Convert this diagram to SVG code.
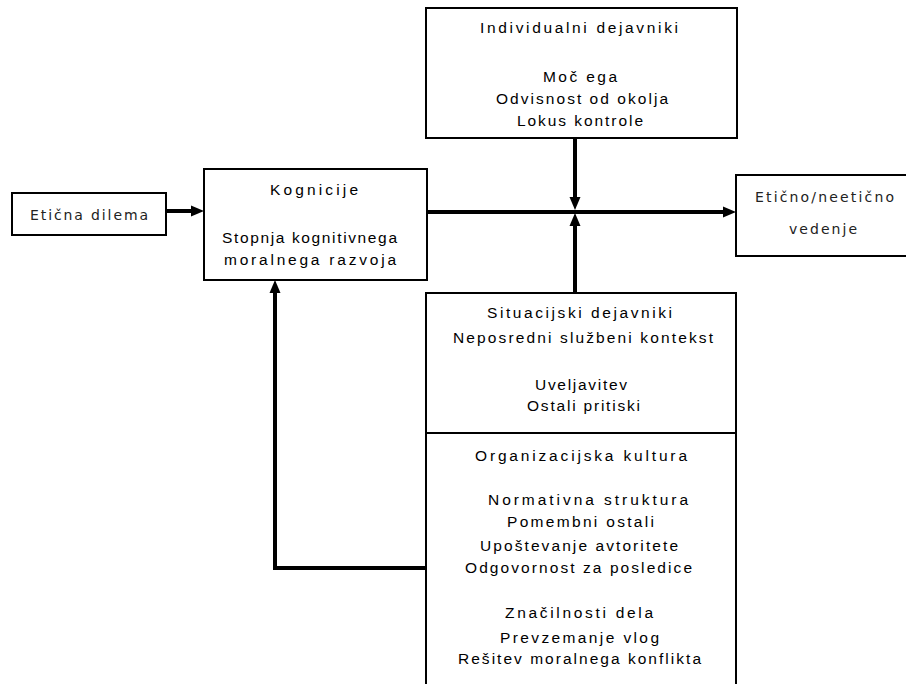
<svg xmlns="http://www.w3.org/2000/svg" width="906" height="684" viewBox="0 0 906 684">
<style>
.box{fill:#fff;stroke:#000;stroke-width:2}
.px{font-family:"Liberation Sans",Arial,sans-serif;font-size:15.5px;fill:#000}
.aa{font-family:"DejaVu Sans",Verdana,sans-serif;font-size:14px;fill:#222}
.con{fill:none;stroke:#000;stroke-width:4}
</style>
<defs>
<marker id="arr" markerUnits="userSpaceOnUse" markerWidth="14" markerHeight="12" viewBox="0 0 14 12" refX="6" refY="6" orient="auto">
<path d="M0,0.5 L13,6 L0,11.5 z" fill="#000"/>
</marker>
</defs>
<rect width="906" height="684" fill="#fff"/>
<g id="connectors">
<line class="con" x1="166" y1="211" x2="197" y2="211" marker-end="url(#arr)"/>
<line class="con" x1="427" y1="212" x2="729" y2="212" marker-end="url(#arr)"/>
<line class="con" x1="575" y1="138" x2="575" y2="203" marker-end="url(#arr)"/>
<line class="con" x1="575" y1="293" x2="575" y2="220" marker-end="url(#arr)"/>
<polyline class="con" points="426,568 275,568 275,287" marker-end="url(#arr)"/>
</g>
<g id="etickna-dilema">
<rect class="box" x="12" y="193" width="154" height="42"/>
<text class="aa" x="30" y="220" textLength="118" lengthAdjust="spacing">Etična dilema</text>
</g>
<g id="kognicije">
<rect class="box" x="204" y="169" width="223" height="111"/>
<text class="px" x="270" y="195" textLength="88" lengthAdjust="spacing">Kognicije</text>
<text class="px" x="222" y="243" textLength="175" lengthAdjust="spacing">Stopnja kognitivnega</text>
<text class="px" x="224" y="265" textLength="172" lengthAdjust="spacing">moralnega razvoja</text>
</g>
<g id="individualni">
<rect class="box" x="426" y="8" width="311" height="130"/>
<text class="px" x="480" y="33" textLength="198" lengthAdjust="spacing">Individualni dejavniki</text>
<text class="px" x="543" y="82" textLength="74" lengthAdjust="spacing">Moč ega</text>
<text class="px" x="496" y="104" textLength="172" lengthAdjust="spacing">Odvisnost od okolja</text>
<text class="px" x="517" y="126" textLength="126" lengthAdjust="spacing">Lokus kontrole</text>
</g>
<g id="eticno-vedenje">
<rect class="box" x="736" y="175" width="176" height="81"/>
<text class="aa" x="755" y="202" textLength="139" lengthAdjust="spacing">Etično/neetično</text>
<text class="aa" x="789" y="234" textLength="68" lengthAdjust="spacing">vedenje</text>
</g>
<g id="situacijski">
<rect class="box" x="426" y="293" width="310" height="140"/>
<text class="px" x="487" y="318" textLength="185" lengthAdjust="spacing">Situacijski dejavniki</text>
<text class="px" x="453" y="343" textLength="260" lengthAdjust="spacing">Neposredni službeni kontekst</text>
<text class="px" x="535" y="390" textLength="92" lengthAdjust="spacing">Uveljavitev</text>
<text class="px" x="527" y="411" textLength="113" lengthAdjust="spacing">Ostali pritiski</text>
</g>
<g id="organizacijska">
<rect class="box" x="426" y="433" width="310" height="260"/>
<text class="px" x="475" y="461" textLength="212" lengthAdjust="spacing">Organizacijska kultura</text>
<text class="px" x="488" y="505" textLength="200" lengthAdjust="spacing">Normativna struktura</text>
<text class="px" x="507" y="527" textLength="147" lengthAdjust="spacing">Pomembni ostali</text>
<text class="px" x="480" y="551" textLength="198" lengthAdjust="spacing">Upoštevanje avtoritete</text>
<text class="px" x="465" y="573" textLength="227" lengthAdjust="spacing">Odgovornost za posledice</text>
<text class="px" x="505" y="618" textLength="148" lengthAdjust="spacing">Značilnosti dela</text>
<text class="px" x="500" y="643" textLength="159" lengthAdjust="spacing">Prevzemanje vlog</text>
<text class="px" x="458" y="664" textLength="243" lengthAdjust="spacing">Rešitev moralnega konflikta</text>
</g>
</svg>
